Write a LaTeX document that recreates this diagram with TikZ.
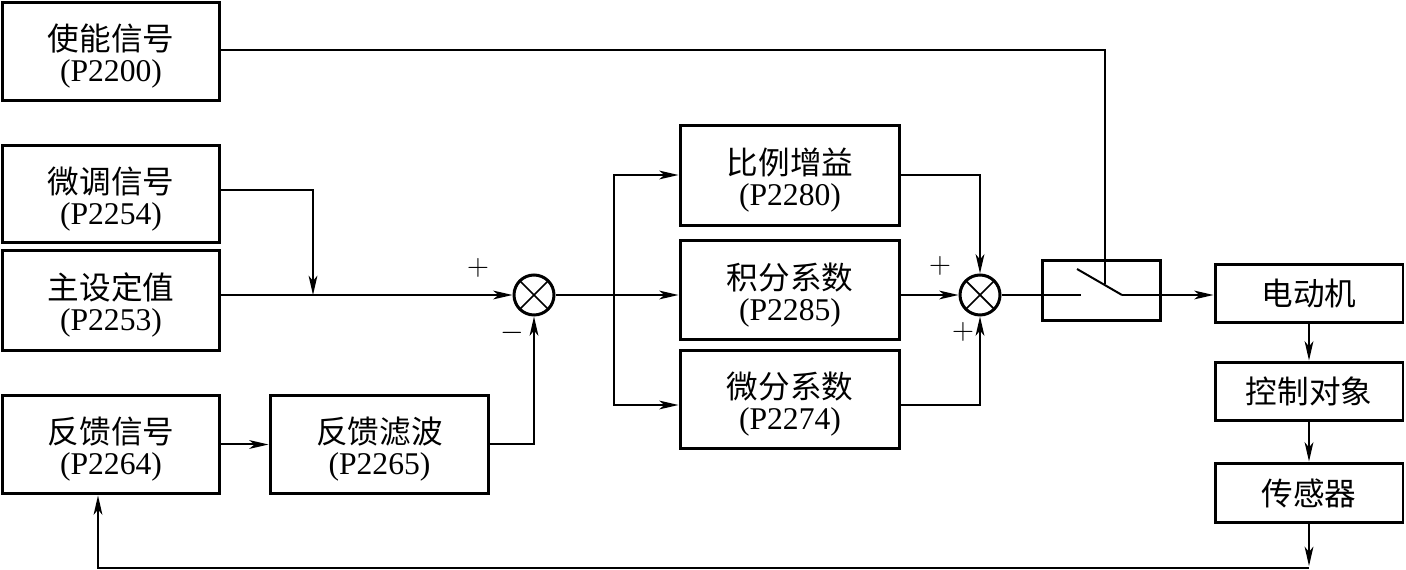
\documentclass[tikz,border=0pt]{standalone}
\usepackage{fontspec}
\setmainfont{Liberation Serif}
\newfontfamily\cjk{Noto Sans CJK SC}
\usepackage{tikz}
\usetikzlibrary{calc, arrows.meta, positioning}

\newcommand{\blktxt}[2]{{\cjk\rule{0pt}{20.5pt}#1}\\#2}

\tikzset{
    blk/.style={draw, line width=0.06cm, align=center,
        font=\fontsize{18}{17.5}\selectfont, inner sep=0pt},
    sumnode/.style={draw, circle, line width=0.06cm, minimum size=0.8cm,
        inner sep=0pt, path picture={
            \draw[line width=0.035cm] (path picture bounding box.north west) -- (path picture bounding box.south east);
            \draw[line width=0.035cm] (path picture bounding box.north east) -- (path picture bounding box.south west);}},
    sgn/.style={font=\fontsize{17}{17}\selectfont, inner sep=0pt},
    wire/.style={line width=0.04cm}
}

\begin{document}
\begin{tikzpicture}[>={Stealth[length=11pt,width=5pt,inset=3pt]}, x=0.02cm, y=-0.02cm]
    \useasboundingbox (0,0) rectangle (1406,570);

    % 1. Các khối
    \node[blk, minimum width=4.36cm, minimum height=1.98cm] (en) at (111,51.5) {\blktxt{使能信号}{(P2200)}};
    \node[blk, minimum width=4.36cm, minimum height=1.96cm] (fine) at (111,194) {\blktxt{微调信号}{(P2254)}};
    \node[blk, minimum width=4.36cm, minimum height=2.02cm] (main) at (111,300.5) {\blktxt{主设定值}{(P2253)}};
    \node[blk, minimum width=4.36cm, minimum height=1.98cm] (fb) at (111,444.5) {\blktxt{反馈信号}{(P2264)}};
    \node[blk, minimum width=4.38cm, minimum height=1.98cm] (filt) at (379.5,444.5) {\blktxt{反馈滤波}{(P2265)}};
    \node[blk, minimum width=4.40cm, minimum height=2.02cm] (kp) at (790,175.5) {\blktxt{比例增益}{(P2280)}};
    \node[blk, minimum width=4.40cm, minimum height=2.00cm] (ki) at (790,290) {\blktxt{积分系数}{(P2285)}};
    \node[blk, minimum width=4.40cm, minimum height=1.98cm] (kd) at (790,399.5) {\blktxt{微分系数}{(P2274)}};
    \node[blk, minimum width=2.36cm, minimum height=1.22cm] (sw) at (1101,290.5) {};
    \node[blk, minimum width=3.76cm, minimum height=1.18cm] (motor) at (1309,293.5) {{\cjk 电动机}};
    \node[blk, minimum width=3.76cm, minimum height=1.18cm] (plant) at (1309,391.5) {{\cjk 控制对象}};
    \node[blk, minimum width=3.76cm, minimum height=1.20cm] (sens) at (1309,493) {{\cjk 传感器}};

    % 2. Bộ cộng
    \node[sumnode] (s1) at (534,295) {};
    \node[sumnode] (s2) at (980,295) {};
    \node[sgn] (p1) at (478,268) {$+$};
    \node[sgn] (m1) at (512,333) {$-$};
    \node[sgn] (p2) at (940,266) {$+$};
    \node[sgn] (p3) at (963,332) {$+$};

    % 3. Công tắc
    \coordinate (swa) at (1081,295);
    \coordinate (bla) at (1077,269);
    \coordinate (blb) at (1122,295);
    \coordinate (blm) at (1105,284);
    \draw[wire] (bla) -- (blb);

    % 4. Đường nối
    \draw[wire, ->] (main.east |- s1) -- (s1.west);
    \draw[wire, ->] (fine.east |- 0,190) -| (313,295);
    \draw[wire, ->] (filt.east) -| (s1.south);
    \draw[wire, ->] (fb.east) -- (filt.west);
    \draw[wire] (s1.east) -- (614,295) coordinate (br);
    \draw[wire, ->] (br) |- (kp.west |- 0,175);
    \draw[wire, ->] (br) -- (ki.west |- s1);
    \draw[wire, ->] (br) |- (kd.west |- 0,405);
    \draw[wire, ->] (kp.east |- 0,175) -| (s2.north);
    \draw[wire, ->] (ki.east |- s2) -- (s2.west);
    \draw[wire, ->] (kd.east |- 0,405) -| (s2.south);
    \draw[wire] (s2.east) -- (swa);
    \draw[wire, ->] (blb) -- (motor.west |- blb);
    \draw[wire] (en.east |- 0,50) -| (blm);
    \draw[wire, ->] (motor.south) -- (plant.north);
    \draw[wire, ->] (plant.south) -- (sens.north);
    \draw[wire, ->] (sens.south) -- (1309,566) coordinate (fbc);
    \draw[wire, ->] (1309,568) -- (98,568) -- ($(fb.south)+(-13,0)$);
\end{tikzpicture}
\end{document}
